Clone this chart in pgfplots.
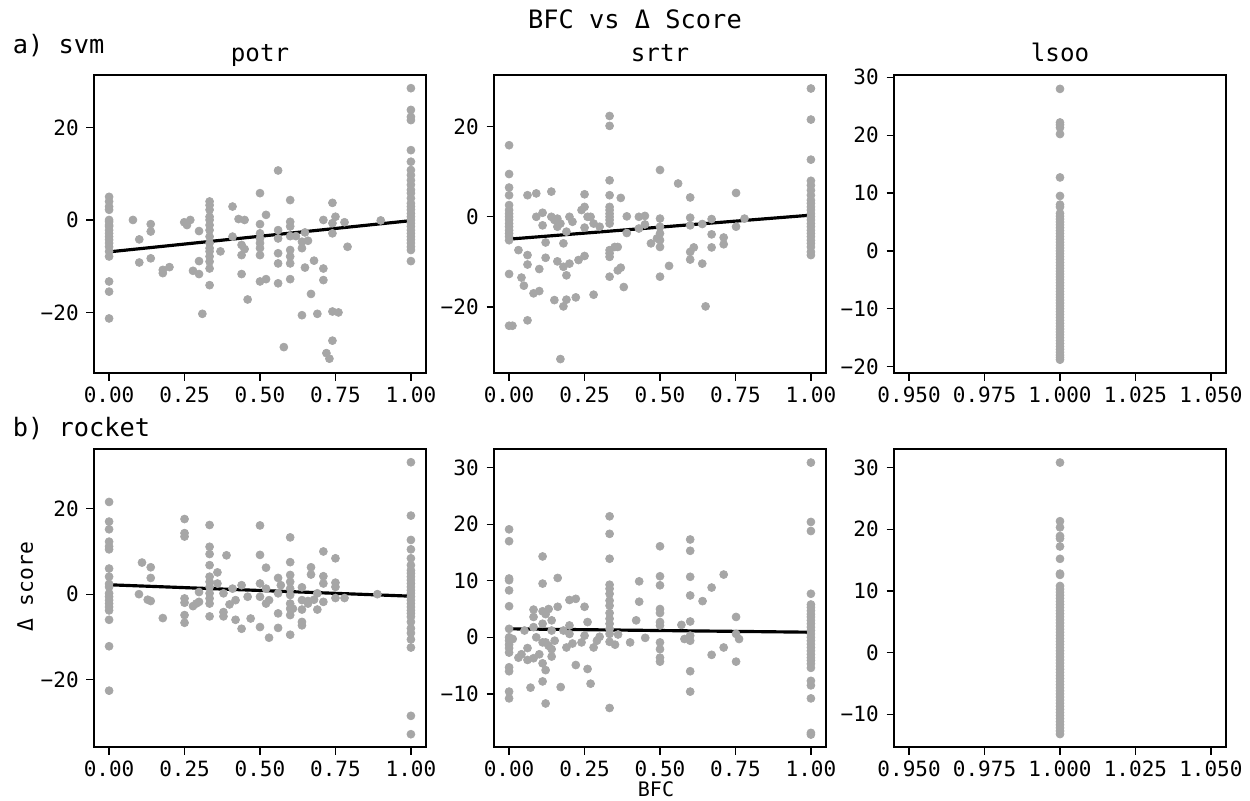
\documentclass[border=0pt]{standalone}
\usepackage{fontspec}
\setmainfont{DejaVu Sans Mono}
\usepackage{pgfplots}
\pgfplotsset{compat=1.18}
\definecolor{dotgrey}{HTML}{A6A6A6}
\pgfplotsset{
  panel/.style={
    scale only axis, width=199.2pt, height=178.8pt, anchor=north west,
    axis line style={line width=0.8pt},
    tick align=outside, xtick pos=left, ytick pos=left,
    major tick length=4.5pt,
    every tick/.style={line width=0.8pt, black},
    xticklabel style={inner sep=0pt, yshift=-3.4pt},
    yticklabel style={inner sep=0pt, xshift=-4.5pt},
    clip=false,
  },
  bfc/.style={xmin=-0.05, xmax=1.05, xtick={0,0.25,0.5,0.75,1}, xticklabels={0.00,0.25,0.50,0.75,1.00}},
  one/.style={xmin=0.945, xmax=1.055, xtick={0.95,0.975,1,1.025,1.05}, xticklabels={0.950,0.975,1.000,1.025,1.050}},
  pts/.style={only marks, mark=*, mark size=2.4pt, color=dotgrey, mark options={draw=none, fill=dotgrey}},
  fit/.style={no marks, black, line width=1.9pt},
}
\begin{document}
\fontsize{12.6}{15}\selectfont
\begin{tikzpicture}[font=\fontsize{12.6}{15}\selectfont]
% ---------------- a) svm, potr
\begin{axis}[panel, bfc, at={(56.4pt,-45pt)}, ymin=-33.1, ymax=31.35,
  ytick={-20,0,20}, yticklabels={−20,0,20}]
\addplot[pts] coordinates {
(0,5.0)(0,4.0)(0,2.9)(0,2.2)(0,0)(0,-0.4)(0,-1.1)(0,-1.4)(0,-2.2)(0,-2.9)(0,-3.6)(0,-4.3)(0,-5.0)(0,-5.8)(0,-6.8)(0,-7.9)(0,-13.3)(0,-15.5)(0,-21.3)
(0.079,0)(0.10,-4.2)(0.10,-9.2)(0.138,-0.9)(0.138,-2.5)(0.138,-8.3)(0.178,-10.8)(0.178,-11.5)(0.2,-10.2)(0.249,-0.5)(0.258,-1.1)(0.269,0)(0.278,-11)(0.298,-2.4)(0.298,-8.9)(0.298,-11.7)(0.309,-20.3)
(0.333,4.0)(0.333,3.2)(0.333,2.2)(0.333,0.7)(0.333,0)(0.333,-1.1)(0.333,-2.2)(0.333,-3.6)(0.333,-5.0)(0.333,-6.1)(0.333,-6.8)(0.333,-7.9)(0.333,-9.0)(0.333,-10.5)(0.333,-14.1)
(0.369,-6.8)(0.409,2.9)(0.409,-3.6)(0.429,0.2)(0.449,0)(0.439,-5.4)(0.449,-6.3)(0.439,-7.6)(0.439,-11.7)(0.459,-17.2)
(0.5,5.8)(0.5,-0.9)(0.5,-2.9)(0.5,-4.0)(0.5,-5.0)(0.5,-6.1)(0.5,-7.6)(0.5,-13.3)(0.52,-12.8)(0.52,1.1)
(0.56,10.7)(0.56,-2.2)(0.56,-4.0)(0.56,-7.2)(0.56,-9.4)(0.56,-13.7)(0.579,-27.5)
(0.6,4.3)(0.6,-0.4)(0.6,-1.4)(0.6,-3.5)(0.6,-6.5)(0.6,-7.9)(0.6,-9.4)(0.6,-12.8)
(0.619,-3.5)(0.639,-4.7)(0.639,-6.1)(0.659,-4.5)(0.649,-2.7)(0.649,-10.3)(0.639,-20.6)(0.669,-16.0)(0.679,-8.8)(0.69,-20.3)(0.71,0)(0.71,-10.5)(0.71,-13.0)(0.72,-28.8)(0.73,-30.0)(0.74,3.7)(0.74,-0.7)(0.74,-2.9)(0.74,-19.8)(0.76,-20.0)(0.74,-26.1)(0.75,0.7)(0.78,-0.5)(0.79,-5.8)(0.9,-0.1)
(1,28.5)(1,23.8)(1,22.3)(1,21.6)(1,15.1)(1,12.6)(1,10.8)(1,9.7)(1,8.6)(1,7.6)(1,6.5)(1,5.8)(1,4.7)(1,3.6)(1,2.9)(1,2.2)(1,1.4)(1,0.7)(1,0)(1,-0.7)(1,-1.4)(1,-2.2)(1,-2.9)(1,-3.6)(1,-4.3)(1,-5.0)(1,-5.8)(1,-6.5)(1,-8.9)
};
\addplot[fit] coordinates {(0,-6.9)(1,-0.15)};
\end{axis}
% ---------------- a) svm, srtr
\begin{axis}[panel, bfc, at={(296.4pt,-45pt)}, ymin=-34.7, ymax=31.5,
  ytick={-20,0,20}, yticklabels={−20,0,20}]
\addplot[pts] coordinates {
(0,15.9)(0,9.5)(0,6.5)(0,4.8)(0,2.6)(0,1.5)(0,0.7)(0,0)(0,-0.7)(0,-1.5)(0,-2.2)(0,-3.0)(0,-3.7)(0,-4.4)(0,-5.2)(0,-12.7)(0,-24.2)(0.011,-24.2)
(0.031,-7.4)(0.061,4.8)(0.061,-8.5)(0.061,-10.6)(0.061,-23.0)(0.041,-13.5)(0.049,-15.3)(0.081,-17.0)(0.10,-16.5)(0.09,5.2)(0.09,0)(0.111,0.9)(0.111,-1.9)(0.10,-11.6)(0.121,-5.7)(0.121,-9.1)(0.14,5.6)(0.14,0)(0.15,-0.7)(0.16,-0.4)(0.16,-2.2)(0.17,-1.5)(0.15,-18.5)(0.18,-19.9)(0.19,-18.4)(0.18,-5.9)(0.16,-9.9)(0.18,-11.1)(0.2,-10.4)(0.17,-31.6)(0.19,-3.3)(0.19,-13.0)(0.2,0)(0.21,-1.1)(0.221,-17.9)(0.23,-9.6)(0.25,-8.7)(0.24,1.5)(0.25,2.2)(0.25,5.0)(0.26,0)(0.27,0)(0.25,-2.4)(0.28,-1.5)(0.30,-2.2)(0.28,-17.3)
(0.333,22.4)(0.333,20.2)(0.333,8.1)(0.333,4.8)(0.333,2.2)(0.333,1.5)(0.333,0.7)(0.333,0)(0.333,-0.7)(0.333,-1.5)(0.333,-7.4)(0.333,-8.1)(0.333,-8.9)(0.333,-13.3)
(0.35,-6.7)(0.36,-6.7)(0.36,-11.9)(0.37,-11.3)(0.37,4.2)(0.38,-15.6)(0.39,0.1)(0.39,-3.6)(0.43,0)(0.45,0.2)(0.43,-2.6)(0.45,-1.7)(0.47,-5.9)(0.49,-4.8)
(0.5,10.4)(0.5,-0.4)(0.5,-2.2)(0.5,-3.7)(0.5,-5.2)(0.5,-6.7)(0.5,-13.3)
(0.53,-10.9)(0.56,7.4)(0.6,4.3)(0.6,-0.2)(0.6,-1.9)(0.6,-7.8)(0.612,-6.8)(0.6,-9.5)(0.64,-1.6)(0.64,-10.4)(0.651,-19.9)(0.671,-0.5)(0.671,-3.9)(0.671,-6.8)(0.711,-4.6)(0.711,-6.1)(0.752,5.3)(0.752,-2.2)(0.78,-0.4)
(1,28.5)(1,21.6)(1,12.7)(1,8.0)(1,7.0)(1,5.9)(1,4.8)(1,3.7)(1,3.0)(1,2.2)(1,1.5)(1,0.7)(1,0)(1,-0.7)(1,-1.5)(1,-2.2)(1,-3.0)(1,-3.7)(1,-4.4)(1,-5.2)(1,-5.9)(1,-6.7)(1,-7.8)(1,-8.5)
};
\addplot[fit] coordinates {(0,-4.96)(1,0.37)};
\end{axis}
% ---------------- a) svm, lsoo
\begin{axis}[panel, one, at={(536.4pt,-45pt)}, ymin=-21.1, ymax=30.4,
  ytick={-20,-10,0,10,20,30}, yticklabels={−20,−10,0,10,20,30}]
\addplot[pts] coordinates {
(1,28.0)(1,22.2)(1,21.8)(1,21.3)(1,20.2)(1,12.7)(1,9.5)(1,8.0)(1,7.6)(1,6.5)(1,6.0)
(1,5.5)(1,5.0)(1,4.5)(1,4.0)(1,3.5)(1,3.0)(1,2.5)(1,2.0)(1,1.5)(1,1.0)(1,0.5)(1,0.0)(1,-0.5)(1,-1.0)(1,-1.5)(1,-2.0)(1,-2.5)(1,-3.0)(1,-3.5)(1,-4.0)(1,-4.5)(1,-5.0)(1,-5.5)(1,-6.0)(1,-6.5)(1,-7.0)(1,-7.5)(1,-8.0)(1,-8.5)(1,-9.0)(1,-9.5)(1,-10.0)(1,-10.5)(1,-11.0)(1,-11.5)(1,-12.0)(1,-12.5)(1,-13.0)(1,-13.5)(1,-14.0)(1,-14.5)(1,-15.0)(1,-15.5)(1,-16.0)(1,-16.5)(1,-17.0)(1,-17.5)(1,-18.0)(1,-18.4)(1,-18.8)
};
\addplot[no marks, black, line width=1.5pt] coordinates {(0.99935,-1.96)(1.00065,-1.96)};
\end{axis}
% ---------------- b) rocket, potr
\begin{axis}[panel, bfc, at={(56.4pt,-269.4pt)}, ymin=-35.8, ymax=34.0,
  ytick={-20,0,20}, yticklabels={−20,0,20}]
\addplot[pts] coordinates {
(0,21.6)(0,17.0)(0,15.2)(0,12.3)(0,11.2)(0,10.5)(0,6.0)(0,4.1)(0,2.4)(0,1.7)(0,0.2)(0,-0.6)(0,-1.4)(0,-2.2)(0,-3.0)(0,-3.8)(0,-6.0)(0,-12.2)(0,-22.6)
(0.099,0)(0.109,7.4)(0.128,-1.3)(0.138,-1.6)(0.138,6.3)(0.138,3.8)(0.178,-5.6)
(0.25,17.6)(0.25,14.3)(0.25,13.5)(0.25,-1.0)(0.25,-2.0)(0.25,-4.9)(0.25,-6.7)
(0.278,-2.8)(0.289,-2.2)(0.298,-1.8)(0.298,0.5)
(0.333,16.2)(0.333,11.1)(0.333,9.4)(0.333,6.8)(0.333,4.1)(0.333,2.9)(0.333,1.7)(0.333,0.2)(0.333,-1.0)(0.333,-2.2)(0.333,-5.2)
(0.359,5.1)(0.359,2.5)(0.379,0.2)(0.379,-4.2)(0.379,-5.2)(0.389,9.1)(0.399,-2.4)(0.409,1.3)(0.419,-1.4)(0.419,-6.0)(0.439,2.1)(0.439,-8.1)(0.459,-0.6)(0.469,-5.7)
(0.5,16.1)(0.5,9.2)(0.5,2.5)(0.5,-0.6)(0.5,-7.7)
(0.52,6.2)(0.52,1.3)(0.52,-2.2)(0.53,-1.4)(0.53,-10.2)
(0.56,3.8)(0.56,0.2)(0.56,-4.5)(0.56,-7.9)(0.569,2.1)
(0.6,13.3)(0.6,7.5)(0.6,4.5)(0.6,2.9)(0.6,1.3)(0.6,-0.2)(0.6,-2.2)(0.6,-3.4)(0.6,-4.9)(0.6,-9.5)(0.609,-3.4)
(0.639,1.6)(0.639,-1.4)(0.639,-3.6)(0.639,-6.5)(0.639,-7.3)
(0.659,-2.2)(0.659,-1.6)(0.669,6.3)(0.669,4.6)(0.679,-1.3)(0.69,-3.6)(0.69,0.2)(0.71,10.0)(0.71,4.2)(0.71,2.5)(0.71,-1.8)(0.75,8.4)(0.75,2.7)(0.75,1.7)(0.75,-0.9)(0.78,-0.9)(0.889,0)
(1,30.9)(1,18.4)(1,12.7)(1,10.5)(1,8.4)(1,6.8)(1,5.6)(1,4.9)(1,4.1)(1,3.3)(1,2.5)(1,1.7)(1,0.9)(1,0.2)(1,-0.6)(1,-1.4)(1,-2.2)(1,-3.0)(1,-3.8)(1,-4.5)(1,-5.3)(1,-6.5)(1,-8.0)(1,-9.1)(1,-10.6)(1,-12.5)(1,-28.5)(1,-32.8)
};
\addplot[fit] coordinates {(0,2.2)(1,-0.47)};
\end{axis}
% ---------------- b) rocket, srtr
\begin{axis}[panel, bfc, at={(296.4pt,-269.4pt)}, ymin=-19.4, ymax=33.3,
  ytick={-10,0,10,20,30}, yticklabels={−10,0,10,20,30}]
\addplot[pts] coordinates {
(0,19.1)(0,17.0)(0,10.4)(0,10.1)(0,8.3)(0,5.5)(0,1.5)(0,0)(0,-0.6)(0,-1.3)(0,-1.9)(0,-2.7)(0,-5.3)(0,-6.0)(0,-9.6)(0,-10.8)
(0.012,-0.3)(0.031,-3.6)(0.041,-3.0)(0.061,-1.9)(0.061,-4.0)(0.081,-3.7)(0.10,-3.0)(0.051,1.2)(0.071,-8.9)(0.081,4.9)(0.081,3.6)(0.081,1.8)(0.09,0)(0.111,14.3)(0.111,9.5)(0.111,4.6)(0.111,2.4)(0.121,4.1)(0.111,-0.9)(0.121,-0.9)(0.131,-1.5)(0.141,-2.1)(0.111,-4.6)(0.121,-5.8)(0.111,-7.8)(0.121,-11.7)(0.131,5.0)(0.141,3.0)(0.161,5.4)(0.141,-3.4)(0.161,10.5)(0.171,-8.8)(0.141,1.2)(0.151,-0.6)(0.18,1.2)(0.19,-1.8)(0.2,2.1)(0.2,0.6)(0.2,6.6)(0.221,6.8)(0.221,-4.9)(0.21,-1.1)(0.24,-0.9)(0.25,0.3)(0.25,5.4)(0.26,2.7)(0.26,-5.6)(0.27,-8.2)(0.28,-1.8)(0.291,-0.6)(0.3,0.1)
(0.333,21.4)(0.333,18.3)(0.333,13.9)(0.333,9.3)(0.333,8.6)(0.333,7.7)(0.333,6.5)(0.333,5.6)(0.333,4.3)(0.333,3.3)(0.333,2.4)(0.333,1.5)(0.333,0.6)(0.333,-0.8)(0.333,-12.5)
(0.351,-1.3)(0.361,0.5)(0.401,-0.9)(0.421,3.0)(0.431,9.9)(0.431,6.3)(0.451,-0.1)
(0.5,16.1)(0.5,10.8)(0.5,9.2)(0.5,5.0)(0.5,4.3)(0.5,2.7)(0.5,2.1)(0.5,-0.9)(0.5,-2.1)(0.5,-3.6)(0.5,-4.3)
(0.571,2.2)(0.581,-0.3)
(0.6,17.3)(0.6,15.3)(0.6,10.7)(0.6,7.4)(0.6,2.8)(0.6,0.3)(0.6,-0.6)(0.6,-6.0)(0.6,-9.6)
(0.641,6.4)(0.671,8.8)(0.671,-3.1)(0.711,11.1)(0.711,-1.8)(0.752,3.6)(0.752,0.6)(0.762,-0.3)(0.752,-4.3)
(1,30.9)(1,20.4)(1,18.8)(1,7.7)(1,5.8)(1,5.3)(1,4.7)(1,4.1)(1,3.6)(1,3.0)(1,2.4)(1,1.8)(1,1.2)(1,0.6)(1,0)(1,-0.6)(1,-1.2)(1,-1.8)(1,-2.4)(1,-3.0)(1,-3.6)(1,-4.1)(1,-4.7)(1,-5.4)(1,-7.7)(1,-8.5)(1,-10.8)(1,-16.9)(1,-17.2)
};
\addplot[fit] coordinates {(0,1.5)(1,0.9)};
\end{axis}
% ---------------- b) rocket, lsoo
\begin{axis}[panel, one, at={(536.4pt,-269.4pt)}, ymin=-15.3, ymax=33.0,
  ytick={-10,0,10,20,30}, yticklabels={−10,0,10,20,30}]
\addplot[pts] coordinates {
(1,30.8)(1,21.3)(1,20.3)(1,18.9)(1,18.5)(1,17.2)(1,15.2)(1,12.8)(1,12.6)
(1,10.8)(1,10.3)(1,9.8)(1,9.3)(1,8.8)(1,8.3)(1,7.8)(1,7.3)(1,6.8)(1,6.3)(1,5.8)(1,5.3)(1,4.8)(1,4.3)(1,3.8)(1,3.3)(1,2.8)(1,2.3)(1,1.8)(1,1.3)(1,0.8)(1,0.3)(1,-0.2)(1,-0.7)(1,-1.2)(1,-1.7)(1,-2.2)(1,-2.7)(1,-3.2)(1,-3.7)(1,-4.2)(1,-4.7)(1,-5.2)(1,-5.7)(1,-6.2)(1,-6.7)(1,-7.2)(1,-7.7)(1,-8.2)(1,-8.7)(1,-9.2)(1,-9.7)(1,-10.2)(1,-10.7)(1,-11.2)(1,-11.7)(1,-12.2)(1,-12.7)(1,-13.2)
};
\addplot[no marks, black, line width=1.5pt] coordinates {(0.99935,1.03)(1.00065,1.03)};
\end{axis}
% ---------------- texts
\node[anchor=base, inner sep=0pt, font=\fontsize{15.2}{18}\selectfont] at (381pt,-16.8pt) {BFC vs Δ Score};
\node[anchor=base west, inner sep=0pt, font=\fontsize{15.2}{18}\selectfont] at (7.5pt,-32pt) {a) svm};
\node[anchor=base, inner sep=0pt, font=\fontsize{14.5}{17}\selectfont] at (156pt,-36.9pt) {potr};
\node[anchor=base, inner sep=0pt, font=\fontsize{14.5}{17}\selectfont] at (396pt,-36.9pt) {srtr};
\node[anchor=base, inner sep=0pt, font=\fontsize{14.5}{17}\selectfont] at (636pt,-36.9pt) {lsoo};
\node[anchor=base west, inner sep=0pt, font=\fontsize{15.2}{18}\selectfont] at (7.5pt,-262pt) {b) rocket};
\node[anchor=base, inner sep=0pt, rotate=90, font=\fontsize{12.8}{15}\selectfont] at (19.8pt,-352.2pt) {Δ score};
\node[anchor=base, inner sep=0pt, font=\fontsize{12}{14}\selectfont] at (393.6pt,-477.6pt) {BFC};
\pgfresetboundingbox
\path[use as bounding box] (0pt,0pt) rectangle (750pt,-480pt);
\end{tikzpicture}
\end{document}
